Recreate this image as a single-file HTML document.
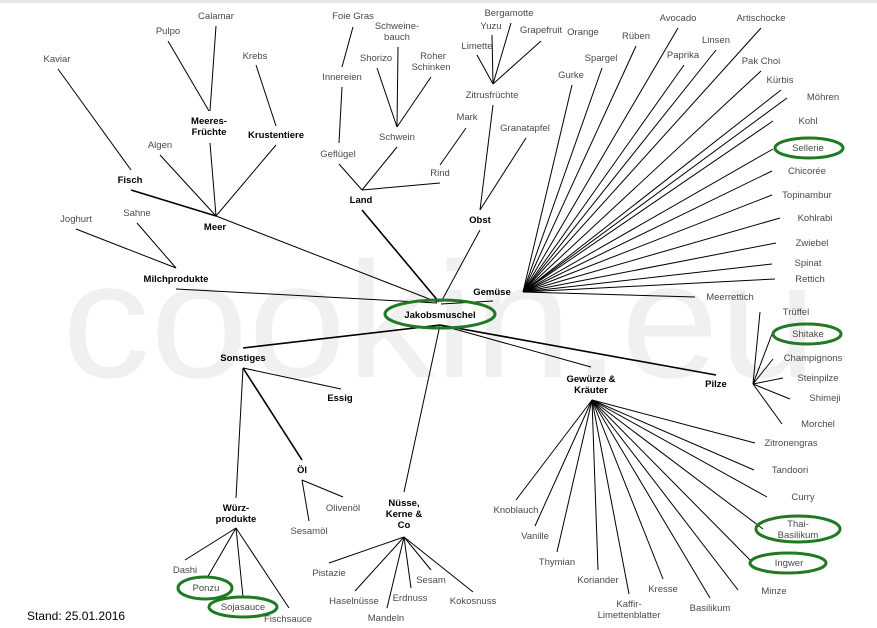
<!DOCTYPE html>
<html><head><meta charset="utf-8"><style>
html,body{margin:0;padding:0;background:#fff;}
svg{display:block;}
.g{font-family:"Liberation Sans",sans-serif;font-size:9.5px;fill:#4a4a4a;text-anchor:middle;}
.b{font-family:"Liberation Sans",sans-serif;font-size:9.5px;font-weight:bold;fill:#000;text-anchor:middle;}
line{stroke:#000;stroke-width:1;}
.t{stroke-width:1.6;}
ellipse{fill:none;stroke:#1f7a22;stroke-width:3;}
</style></head><body>
<svg width="877" height="628" viewBox="0 0 877 628" xmlns="http://www.w3.org/2000/svg">
<rect x="0" y="0" width="877" height="3" fill="#e6e6e6"/>
<text x="62" y="377" font-family="Liberation Sans,sans-serif" font-size="165" fill="#f0f0f0" textLength="755" lengthAdjust="spacingAndGlyphs">cookin.eu</text>

<!-- Meer branch -->
<line x1="58" y1="69" x2="131" y2="170"/>
<line x1="168" y1="41" x2="209" y2="111"/>
<line x1="216" y1="26" x2="210" y2="111"/>
<line x1="256" y1="65" x2="276" y2="126"/>
<line x1="160" y1="155" x2="216" y2="216"/>
<line x1="210" y1="143" x2="216" y2="216"/>
<line x1="276" y1="145" x2="216" y2="216"/>
<line x1="131" y1="190" x2="216" y2="216" class="t"/>
<line x1="216" y1="216" x2="437" y2="302"/>
<line x1="76" y1="229" x2="176" y2="268"/>
<line x1="137" y1="223" x2="176" y2="268"/>
<line x1="176" y1="289" x2="437" y2="303"/>
<!-- Land -->
<line x1="353" y1="27" x2="342" y2="67"/>
<line x1="342" y1="87" x2="339" y2="143"/>
<line x1="377" y1="68" x2="397" y2="127"/>
<line x1="398" y1="47" x2="397" y2="127"/>
<line x1="431" y1="77" x2="397" y2="127"/>
<line x1="397" y1="147" x2="362" y2="190"/>
<line x1="339" y1="164" x2="362" y2="190"/>
<line x1="362" y1="190" x2="440" y2="183"/>
<line x1="466" y1="128" x2="440" y2="165"/>
<line x1="362" y1="210" x2="439" y2="302" class="t"/>
<!-- Obst -->
<line x1="511" y1="23" x2="493" y2="84"/>
<line x1="492" y1="35" x2="493" y2="84"/>
<line x1="477" y1="55" x2="493" y2="84"/>
<line x1="541" y1="41" x2="493" y2="84"/>
<line x1="493" y1="105" x2="480" y2="210"/>
<line x1="526" y1="138" x2="480" y2="210"/>
<line x1="480" y1="230" x2="441" y2="302"/>
<!-- Gemüse -->
<line x1="493" y1="301" x2="441" y2="304"/>
<g>
<line x1="523" y1="292" x2="572" y2="85"/>
<line x1="523" y1="292" x2="602" y2="68"/>
<line x1="523" y1="292" x2="636" y2="46"/>
<line x1="523" y1="292" x2="678" y2="28"/>
<line x1="523" y1="292" x2="684" y2="65"/>
<line x1="523" y1="292" x2="716" y2="50"/>
<line x1="523" y1="292" x2="761" y2="28"/>
<line x1="523" y1="292" x2="761" y2="71"/>
<line x1="523" y1="292" x2="781" y2="90"/>
<line x1="523" y1="292" x2="787" y2="98"/>
<line x1="523" y1="292" x2="773" y2="121"/>
<line x1="523" y1="292" x2="773" y2="149"/>
<line x1="523" y1="292" x2="772" y2="171"/>
<line x1="523" y1="292" x2="772" y2="195"/>
<line x1="523" y1="292" x2="780" y2="218"/>
<line x1="523" y1="292" x2="776" y2="243"/>
<line x1="523" y1="292" x2="772" y2="264"/>
<line x1="523" y1="292" x2="775" y2="279"/>
<line x1="523" y1="292" x2="695" y2="297"/>
</g>
<!-- From Jakobsmuschel down -->
<line x1="440" y1="325" x2="243" y2="348" class="t"/>
<line x1="440" y1="325" x2="404" y2="492"/>
<line x1="440" y1="325" x2="591" y2="367"/>
<line x1="440" y1="325" x2="716" y2="375" class="t"/>
<!-- Pilze -->
<line x1="753" y1="384" x2="760" y2="312"/>
<line x1="753" y1="384" x2="772" y2="334"/>
<line x1="753" y1="384" x2="773" y2="359"/>
<line x1="753" y1="384" x2="783" y2="378"/>
<line x1="753" y1="384" x2="790" y2="399"/>
<line x1="753" y1="384" x2="782" y2="424"/>
<!-- Gewürze -->
<g>
<line x1="592" y1="400" x2="755" y2="443"/>
<line x1="592" y1="400" x2="754" y2="470"/>
<line x1="592" y1="400" x2="767" y2="497"/>
<line x1="592" y1="400" x2="763" y2="529"/>
<line x1="592" y1="400" x2="752" y2="562"/>
<line x1="592" y1="400" x2="738" y2="590"/>
<line x1="592" y1="400" x2="710" y2="598"/>
<line x1="592" y1="400" x2="663" y2="579"/>
<line x1="592" y1="400" x2="629" y2="594"/>
<line x1="592" y1="400" x2="598" y2="570"/>
<line x1="592" y1="400" x2="557" y2="552"/>
<line x1="592" y1="400" x2="535" y2="526"/>
<line x1="592" y1="400" x2="516" y2="500"/>
</g>
<!-- Sonstiges -->
<line x1="243" y1="368" x2="341" y2="389"/>
<line x1="243" y1="368" x2="302" y2="460" class="t"/>
<line x1="243" y1="368" x2="236" y2="498"/>
<line x1="302" y1="480" x2="343" y2="497"/>
<line x1="302" y1="480" x2="309" y2="521"/>
<line x1="236" y1="528" x2="185" y2="560"/>
<line x1="236" y1="528" x2="207" y2="578"/>
<line x1="236" y1="528" x2="243" y2="597"/>
<line x1="236" y1="528" x2="289" y2="608"/>
<!-- Nüsse -->
<line x1="404" y1="537" x2="329" y2="563"/>
<line x1="404" y1="537" x2="355" y2="591"/>
<line x1="404" y1="537" x2="387" y2="608"/>
<line x1="404" y1="537" x2="411" y2="588"/>
<line x1="404" y1="537" x2="431" y2="570"/>
<line x1="404" y1="537" x2="473" y2="592"/>

<!-- ellipses -->
<ellipse cx="440" cy="314" rx="55" ry="14"/>
<ellipse cx="809" cy="148" rx="34" ry="10"/>
<ellipse cx="807" cy="334" rx="34" ry="10"/>
<ellipse cx="798" cy="529" rx="42" ry="13"/>
<ellipse cx="788" cy="563" rx="38" ry="10"/>
<ellipse cx="205" cy="588" rx="27" ry="11"/>
<ellipse cx="243" cy="607" rx="34" ry="10"/>

<!-- labels -->
<g class="g">
<text x="57" y="62">Kaviar</text>
<text x="168" y="34">Pulpo</text>
<text x="216" y="19">Calamar</text>
<text x="255" y="59">Krebs</text>
<text x="160" y="148">Algen</text>
<text x="76" y="222">Joghurt</text>
<text x="137" y="216">Sahne</text>
<text x="353" y="19">Foie Gras</text>
<text x="397" y="29">Schweine-</text>
<text x="397" y="40">bauch</text>
<text x="376" y="61">Shorizo</text>
<text x="433" y="59">Roher</text>
<text x="431" y="70">Schinken</text>
<text x="342" y="80">Innereien</text>
<text x="338" y="157">Geflügel</text>
<text x="397" y="140">Schwein</text>
<text x="440" y="176">Rind</text>
<text x="467" y="120">Mark</text>
<text x="509" y="16">Bergamotte</text>
<text x="491" y="29">Yuzu</text>
<text x="477" y="49">Limette</text>
<text x="541" y="33">Grapefruit</text>
<text x="583" y="35">Orange</text>
<text x="492" y="98">Zitrusfrüchte</text>
<text x="525" y="131">Granatapfel</text>
<text x="571" y="78">Gurke</text>
<text x="601" y="61">Spargel</text>
<text x="636" y="39">Rüben</text>
<text x="678" y="21">Avocado</text>
<text x="683" y="58">Paprika</text>
<text x="716" y="43">Linsen</text>
<text x="761" y="21">Artischocke</text>
<text x="761" y="64">Pak Choi</text>
<text x="780" y="83">Kürbis</text>
<text x="823" y="100">Möhren</text>
<text x="808" y="124">Kohl</text>
<text x="808" y="151">Sellerie</text>
<text x="807" y="174">Chicorée</text>
<text x="807" y="198">Topinambur</text>
<text x="815" y="221">Kohlrabi</text>
<text x="812" y="246">Zwiebel</text>
<text x="808" y="266">Spinat</text>
<text x="810" y="282">Rettich</text>
<text x="730" y="300">Meerrettich</text>
<text x="796" y="315">Trüffel</text>
<text x="808" y="337">Shitake</text>
<text x="813" y="361">Champignons</text>
<text x="818" y="381">Steinpilze</text>
<text x="825" y="401">Shimeji</text>
<text x="818" y="427">Morchel</text>
<text x="791" y="446">Zitronengras</text>
<text x="790" y="473">Tandoori</text>
<text x="803" y="500">Curry</text>
<text x="798" y="527">Thai-</text>
<text x="798" y="538">Basilikum</text>
<text x="789" y="566">Ingwer</text>
<text x="774" y="594">Minze</text>
<text x="710" y="611">Basilikum</text>
<text x="663" y="592">Kresse</text>
<text x="629" y="607">Kaffir-</text>
<text x="629" y="618">Limettenblatter</text>
<text x="598" y="583">Koriander</text>
<text x="557" y="565">Thymian</text>
<text x="535" y="539">Vanille</text>
<text x="516" y="513">Knoblauch</text>
<text x="343" y="511">Olivenöl</text>
<text x="309" y="534">Sesamöl</text>
<text x="185" y="573">Dashi</text>
<text x="206" y="591">Ponzu</text>
<text x="243" y="610">Sojasauce</text>
<text x="288" y="622">Fischsauce</text>
<text x="329" y="576">Pistazie</text>
<text x="354" y="604">Haselnüsse</text>
<text x="386" y="621">Mandeln</text>
<text x="410" y="601">Erdnuss</text>
<text x="431" y="583">Sesam</text>
<text x="473" y="604">Kokosnuss</text>
</g>
<g class="b">
<text x="209" y="124">Meeres-</text>
<text x="209" y="135">Früchte</text>
<text x="276" y="138">Krustentiere</text>
<text x="130" y="183">Fisch</text>
<text x="215" y="230">Meer</text>
<text x="176" y="282">Milchprodukte</text>
<text x="361" y="203">Land</text>
<text x="480" y="223">Obst</text>
<text x="492" y="295">Gemüse</text>
<text x="440" y="318">Jakobsmuschel</text>
<text x="243" y="361">Sonstiges</text>
<text x="340" y="401">Essig</text>
<text x="302" y="473">Öl</text>
<text x="236" y="511">Würz-</text>
<text x="236" y="522">produkte</text>
<text x="404" y="506">Nüsse,</text>
<text x="404" y="517">Kerne &amp;</text>
<text x="404" y="528">Co</text>
<text x="591" y="382">Gewürze &amp;</text>
<text x="591" y="393">Kräuter</text>
<text x="716" y="387">Pilze</text>
</g>
<text x="27" y="620" font-family="Liberation Sans,sans-serif" font-size="12" fill="#000">Stand: 25.01.2016</text>
</svg>
</body></html>
